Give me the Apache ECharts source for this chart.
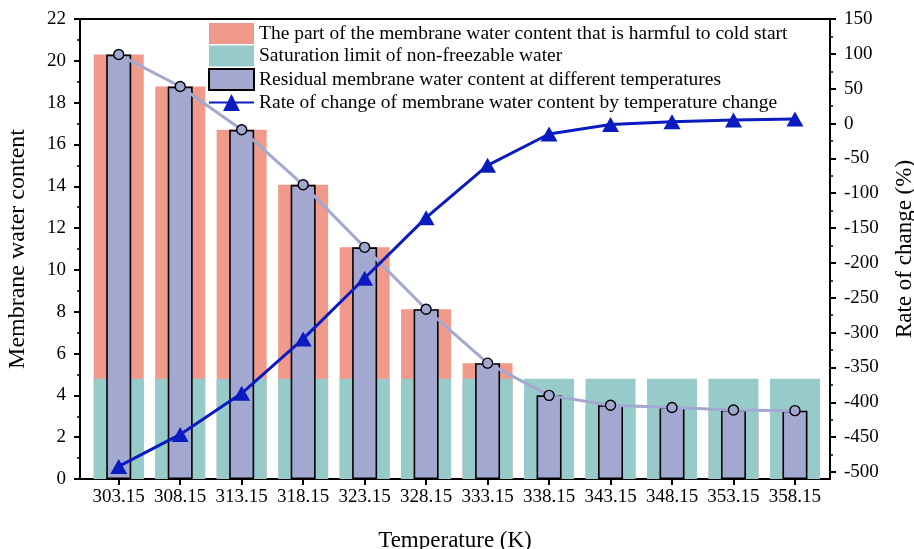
<!DOCTYPE html>
<html>
<head>
<meta charset="utf-8">
<script src="https://cdn.jsdelivr.net/npm/echarts@6.0.0/dist/echarts.min.js"></script>
<style>
html,body{margin:0;padding:0;background:#fff;}
#chart{width:914px;height:549px;}
</style>
</head>
<body>
<div id="chart"></div>
<script>
// ---- data ----
const temperatures = [303.15, 308.15, 313.15, 318.15, 323.15, 328.15, 333.15, 338.15, 343.15, 348.15, 353.15, 358.15];
const harmfulTotal = [20.3, 18.77, 16.7, 14.07, 11.08, 8.12, 5.54, 4.0, 3.53, 3.42, 3.3, 3.27];
const saturationLimit = [4.8, 4.8, 4.8, 4.8, 4.8, 4.8, 4.8, 4.8, 4.8, 4.8, 4.8, 4.8];
const residualContent = [20.3, 18.77, 16.7, 14.07, 11.08, 8.12, 5.54, 4.0, 3.53, 3.42, 3.3, 3.27];
const rateOfChange = [-492, -446, -387, -309, -222, -135, -60, -15, -1.5, 2.5, 5, 6.5];
const rightTickValues = [-500, -450, -400, -350, -300, -250, -200, -150, -100, -50, 0, 50, 100, 150];
const rightMinorTickValues = [-475, -425, -375, -325, -275, -225, -175, -125, -75, -25, 25, 75, 125];

const names = [
  'The part of the membrane water content that is harmful to cold start',
  'Saturation limit of non-freezable water',
  'Residual membrane water content at different temperatures',
  'Rate of change of membrane water content by temperature change'
];

const FONT = "'Liberation Serif', 'Times New Roman', serif";
const pair = (xs, ys) => xs.map((x, i) => [x, ys[i]]);

const chart = echarts.init(document.getElementById('chart'), null, {renderer: 'canvas'});
const option = {
  backgroundColor: '#fff',
  animation: false,
  textStyle: {fontFamily: FONT, color: '#000'},
  grid: {left: 80, right: 84, top: 19, bottom: 70, containLabel: false, outerBoundsMode: 'none'},
  legend: {
    data: [
      {name: names[0], icon: 'rect'},
      {name: names[1], icon: 'rect'},
      {name: names[2], icon: 'rect'},
      {name: names[3]}
    ],
    orient: 'vertical',
    left: 208, top: 23,
    itemWidth: 45, itemHeight: 21, itemGap: 1.5,
    padding: 0,
    textStyle: {fontFamily: FONT, fontSize: 19.5, color: '#000'}
  },
  xAxis: [
    {
      type: 'value', min: 300, max: 361, position: 'bottom',
      name: 'Temperature (K)', nameLocation: 'middle', nameGap: 50,
      nameTextStyle: {fontFamily: FONT, fontSize: 23, color: '#000'},
      axisLine: {show: true, onZero: false, lineStyle: {color: '#000', width: 2}},
      axisTick: {show: true, inside: false, length: 6, lineStyle: {color: '#000', width: 2}, customValues: temperatures},
      axisLabel: {fontFamily: FONT, fontSize: 19, color: '#000', margin: 9, customValues: temperatures,
        formatter: v => v.toFixed(2)},
      splitLine: {show: false}
    },
    {
      type: 'value', min: 300, max: 361, position: 'top',
      axisLine: {show: true, onZero: false, lineStyle: {color: '#000', width: 2}},
      axisTick: {show: false}, axisLabel: {show: false}, splitLine: {show: false}
    }
  ],
  yAxis: [
    {
      type: 'value', min: 0, max: 22, interval: 2, position: 'left',
      name: 'Membrane water content', nameLocation: 'middle', nameGap: 50, nameRotate: 90,
      nameTextStyle: {fontFamily: FONT, fontSize: 24, color: '#000'},
      axisLine: {show: true, onZero: false, lineStyle: {color: '#000', width: 2}},
      axisTick: {show: true, inside: false, length: 6, lineStyle: {color: '#000', width: 2}},
      minorTick: {show: true, splitNumber: 2, length: 3, lineStyle: {color: '#000', width: 1.5}},
      axisLabel: {fontFamily: FONT, fontSize: 19, color: '#000', margin: 14},
      splitLine: {show: false}
    },
    {
      type: 'value', min: -510, max: 150, position: 'right',
      name: 'Rate of change (%)', nameLocation: 'middle', nameGap: 63, nameRotate: 90,
      nameTextStyle: {fontFamily: FONT, fontSize: 23, color: '#000'},
      axisLine: {show: true, onZero: false, lineStyle: {color: '#000', width: 2}},
      axisTick: {show: true, inside: false, length: 6, lineStyle: {color: '#000', width: 2}, customValues: rightTickValues},
      axisLabel: {fontFamily: FONT, fontSize: 19, color: '#000', margin: 14, customValues: rightTickValues},
      splitLine: {show: false}
    },
    {
      type: 'value', min: -510, max: 150, position: 'right',
      axisLine: {show: false},
      axisTick: {show: true, inside: false, length: 3, lineStyle: {color: '#000', width: 1.5}, customValues: rightMinorTickValues},
      axisLabel: {show: false},
      splitLine: {show: false}
    }
  ],
  series: [
    {
      name: names[0], type: 'bar', xAxisIndex: 0, yAxisIndex: 0,
      barWidth: 50, barGap: '-100%', z: 2,
      itemStyle: {color: '#f09a8b'},
      data: pair(temperatures, harmfulTotal)
    },
    {
      name: names[1], type: 'bar', xAxisIndex: 0, yAxisIndex: 0,
      barWidth: 50, barGap: '-100%', z: 2,
      itemStyle: {color: '#97cbca'},
      data: pair(temperatures, saturationLimit)
    },
    {
      name: names[2], type: 'bar', xAxisIndex: 1, yAxisIndex: 0,
      barWidth: 25, z: 3,
      itemStyle: {color: '#a2a8d0', borderColor: '#000', borderWidth: 1.6},
      data: pair(temperatures, residualContent)
    },
    {
      name: 'residual-trend', type: 'line', xAxisIndex: 1, yAxisIndex: 0, z: 4,
      symbol: 'circle', symbolSize: 10,
      lineStyle: {color: '#a2a8d0', width: 3},
      itemStyle: {color: '#a2a8d0', borderColor: '#000', borderWidth: 1.4},
      data: pair(temperatures, residualContent)
    },
    {
      name: names[3], type: 'line', xAxisIndex: 0, yAxisIndex: 1, z: 5,
      symbol: 'triangle', symbolSize: [17, 15],
      lineStyle: {color: '#0a1cbf', width: 3},
      itemStyle: {color: '#0a1cbf'},
      data: pair(temperatures, rateOfChange)
    }
  ]
};
chart.setOption(option);
</script>
</body>
</html>
